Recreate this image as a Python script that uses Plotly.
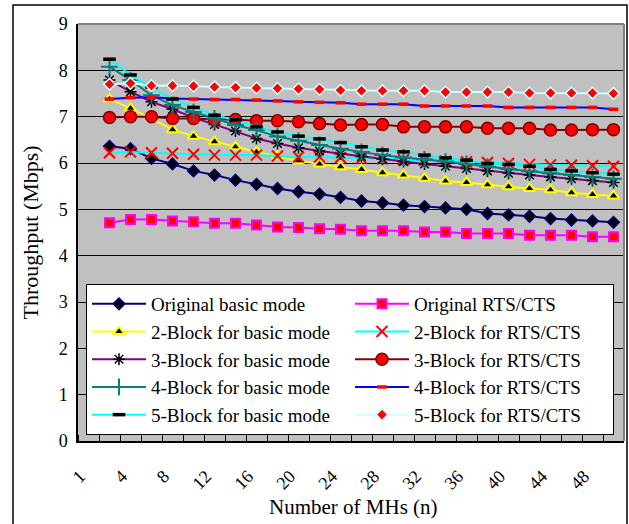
import plotly.graph_objects as go

# ---- data ----
n_categories = [1, 2, 4, 6, 8, 10, 12, 14, 16, 18, 20, 22, 24, 26, 28, 30,
                32, 34, 36, 38, 40, 42, 44, 46, 48, 50]
n_data = [2, 4, 6, 8, 10, 12, 14, 16, 18, 20, 22, 24, 26, 28, 30,
          32, 34, 36, 38, 40, 42, 44, 46, 48, 50]

orig_basic = [6.36, 6.31, 6.10, 5.98, 5.83, 5.74, 5.63, 5.54, 5.45, 5.38, 5.33, 5.26, 5.18,
              5.14, 5.09, 5.06, 5.03, 5.00, 4.91, 4.88, 4.85, 4.80, 4.77, 4.75, 4.72]
orig_rts = [4.71, 4.78, 4.78, 4.75, 4.73, 4.70, 4.70, 4.66, 4.62, 4.61, 4.58, 4.57, 4.54,
            4.54, 4.54, 4.51, 4.51, 4.48, 4.48, 4.48, 4.44, 4.44, 4.44, 4.41, 4.41]
b2_basic = [7.38, 7.18, 6.96, 6.72, 6.58, 6.46, 6.35, 6.24, 6.15, 6.05, 5.98, 5.92, 5.86,
            5.79, 5.74, 5.67, 5.61, 5.58, 5.53, 5.49, 5.45, 5.42, 5.36, 5.32, 5.29]
b2_rts = [6.22, 6.24, 6.22, 6.21, 6.19, 6.17, 6.17, 6.17, 6.15, 6.13, 6.13, 6.12, 6.10,
          6.09, 6.07, 6.06, 6.04, 6.03, 6.01, 5.99, 5.97, 5.96, 5.95, 5.94, 5.93]
b3_basic = [7.79, 7.54, 7.32, 7.16, 6.98, 6.83, 6.69, 6.53, 6.42, 6.33, 6.26, 6.20, 6.14,
            6.08, 6.03, 5.98, 5.93, 5.88, 5.83, 5.78, 5.74, 5.70, 5.66, 5.62, 5.58]
b3_rts = [6.98, 7.00, 7.00, 6.96, 6.96, 6.94, 6.94, 6.91, 6.91, 6.89, 6.85, 6.82, 6.83,
          6.83, 6.78, 6.78, 6.78, 6.78, 6.75, 6.75, 6.75, 6.71, 6.71, 6.72, 6.72]
b4_basic = [8.08, 7.79, 7.46, 7.25, 7.10, 6.96, 6.82, 6.71, 6.57, 6.48, 6.39, 6.31, 6.24,
            6.17, 6.12, 6.08, 6.03, 5.98, 5.92, 5.87, 5.82, 5.78, 5.74, 5.70, 5.66]
b4_rts = [7.38, 7.41, 7.42, 7.39, 7.38, 7.37, 7.37, 7.36, 7.34, 7.32, 7.31, 7.30, 7.27,
          7.27, 7.27, 7.23, 7.23, 7.23, 7.23, 7.20, 7.20, 7.20, 7.20, 7.20, 7.16]
b5_basic = [8.24, 7.90, 7.64, 7.38, 7.20, 7.03, 6.93, 6.78, 6.67, 6.58, 6.52, 6.44, 6.35,
            6.28, 6.24, 6.17, 6.11, 6.06, 5.99, 5.97, 5.93, 5.86, 5.83, 5.79, 5.76]
b5_rts = [7.70, 7.72, 7.67, 7.67, 7.66, 7.64, 7.63, 7.62, 7.61, 7.60, 7.59, 7.57, 7.56,
          7.56, 7.56, 7.56, 7.53, 7.53, 7.53, 7.53, 7.51, 7.51, 7.51, 7.51, 7.50]

y_ticks = [0, 1, 2, 3, 4, 5, 6, 7, 8, 9]

# ---- figure ----
FONT = "Liberation Serif, Times New Roman, Liberation Sans, Arial, sans-serif"
W, H = 629, 524
L, R, T, B = 78, 5, 24, 83
PW, PH = W - L - R, H - T - B

x_pos = [n_categories.index(n) for n in n_data]

series = [
    ("Original basic mode", orig_basic, "#000080",
     dict(symbol="diamond", size=9, color="#000000", line=dict(color="#000080", width=1.5))),
    ("Original RTS/CTS", orig_rts, "#FF00FF",
     dict(symbol="square", size=9, color="#FF0000", line=dict(color="#FF00FF", width=2))),
    ("2-Block for basic mode", b2_basic, "#FFFF00",
     dict(symbol="triangle-up", size=10, color="#000000", line=dict(color="#FFFF00", width=2))),
    ("2-Block for RTS/CTS", b2_rts, "#00FFFF",
     dict(symbol="x-thin-open", size=11, color="#FF0000", line=dict(color="#FF0000", width=2))),
    ("3-Block for basic mode", b3_basic, "#800080",
     dict(symbol="asterisk-open", size=10, color="#000000", line=dict(color="#000000", width=1.5))),
    ("3-Block for RTS/CTS", b3_rts, "#800000",
     dict(symbol="circle", size=12, color="#FF0000", line=dict(color="#800000", width=1.5))),
    ("4-Block for basic mode", b4_basic, "#008080",
     dict(symbol="cross-thin-open", size=12, color="#008080", line=dict(color="#008080", width=2))),
    ("4-Block for RTS/CTS", b4_rts, "#0000FF",
     dict(symbol="line-ew-open", size=7, color="#FF0000", line=dict(color="#FF0000", width=3.5))),
    ("5-Block for basic mode", b5_basic, "#00FFFF",
     dict(symbol="line-ew-open", size=9, color="#000000", line=dict(color="#000000", width=3.5))),
    ("5-Block for RTS/CTS", b5_rts, "#CCFFFF",
     dict(symbol="diamond", size=9, color="#FF0000", line=dict(color="#CCFFFF", width=1.5))),
]

fig = go.Figure()
for name, vals, lc, mk in series:
    fig.add_trace(go.Scatter(
        x=x_pos, y=vals, name=name, mode="lines+markers",
        line=dict(color=lc, width=2), marker=mk, cliponaxis=False))

label_idx = list(range(0, len(n_categories), 2))[:13]

fig.update_layout(
    width=W, height=H,
    margin=dict(l=L, r=R, t=T, b=B, pad=0, autoexpand=False),
    paper_bgcolor="white", plot_bgcolor="#C0C0C0",
    font=dict(family=FONT, size=18, color="black"),
    showlegend=True,
    legend=dict(
        orientation="h", x=(86 - L) / PW, y=(H - B - 284) / PH,
        xanchor="left", yanchor="top",
        bgcolor="white", bordercolor="black", borderwidth=1,
        font=dict(family=FONT, size=19, color="black"),
        entrywidth=194, entrywidthmode="pixels",
        itemwidth=54, traceorder="normal",
    ),
    xaxis=dict(
        automargin=False,
        range=[-0.5, len(n_categories) - 0.5],
        tickmode="array",
        tickvals=[i - 0.4 for i in label_idx],
        ticktext=[str(n_categories[i]) for i in label_idx],
        tickangle=-45, ticks="", ticklabelstandoff=16,
        showgrid=False, zeroline=False,
        showline=True, linecolor="black", linewidth=1.5,
        minor=dict(tickmode="array",
                   tickvals=[i - 0.5 for i in range(len(n_categories) + 1)],
                   ticks="inside", ticklen=6, tickcolor="black", tickwidth=1,
                   showgrid=False),
        tickfont=dict(family=FONT, size=18),
    ),
    yaxis=dict(
        automargin=False,
        range=[0, 9], tickmode="array", tickvals=y_ticks,
        ticktext=[str(v) for v in y_ticks],
        ticks="", ticklabelstandoff=5,
        showgrid=True, gridcolor="black", gridwidth=1,
        zeroline=False,
        showline=True, linecolor="black", linewidth=1.5,
        tickfont=dict(family=FONT, size=18),
    ),
    annotations=[
        dict(text="Number of MHs (n)", xref="paper", yref="paper",
             x=(353 - L) / PW, y=(H - B - 507) / PH, xanchor="center", yanchor="middle",
             showarrow=False, font=dict(family=FONT, size=21)),
        dict(text="Throughput (Mbps)", xref="paper", yref="paper",
             x=(30 - L) / PW, y=0.5, xanchor="center", yanchor="middle", textangle=-90,
             showarrow=False, font=dict(family=FONT, size=22)),
    ],
    shapes=[
        # outer chart frame
        dict(type="rect", xref="paper", yref="paper",
             x0=(13 - L) / PW, x1=(627 - L) / PW,
             y0=(H - B - 560) / PH, y1=(H - B - 5) / PH,
             line=dict(color="black", width=1.5), fillcolor="rgba(0,0,0,0)", layer="above"),
        # plot area border (top, right)
        dict(type="line", xref="paper", yref="paper", x0=0, x1=1, y0=1, y1=1,
             line=dict(color="#808080", width=2), layer="above"),
        dict(type="line", xref="paper", yref="paper", x0=1, x1=1, y0=0, y1=1,
             line=dict(color="#808080", width=2), layer="above"),
    ],
)

fig.write_html("out.html")
